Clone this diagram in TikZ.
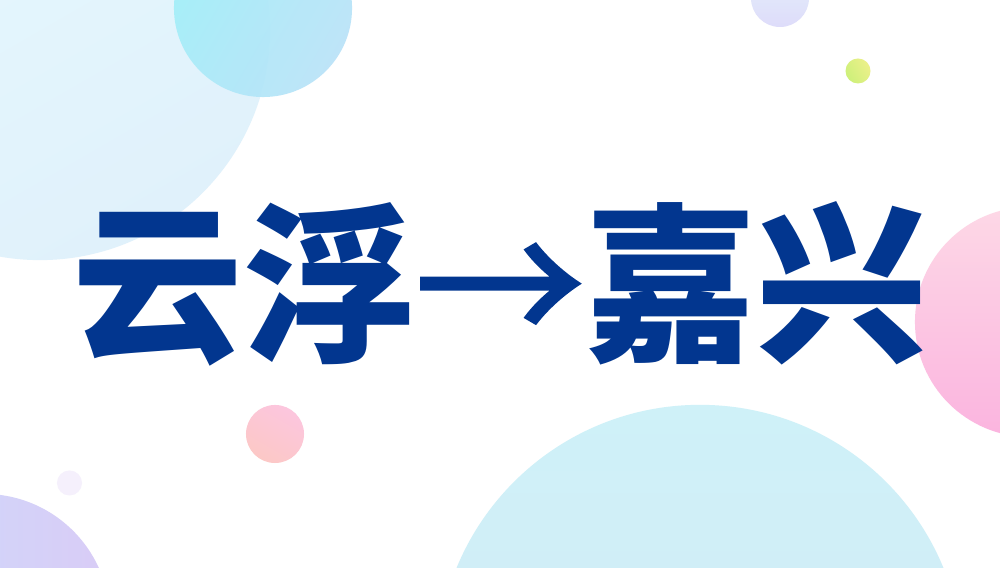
\documentclass[tikz,border=0pt]{standalone}
\usepackage{fontspec}
\newfontfamily\cjk{Noto Sans CJK SC}
\newfontfamily\cjkarrow{Noto Sans CJK SC}[FakeBold=1.5]
\definecolor{txt}{RGB}{2,54,143}
\definecolor{bigA}{HTML}{E6F8FE}
\definecolor{bigB}{HTML}{E0F1FB}
\definecolor{medA}{HTML}{A2EFF8}
\definecolor{medB}{HTML}{B9E2F8}
\definecolor{lavA}{HTML}{E4F0FB}
\definecolor{lavB}{HTML}{DEDCFA}
\definecolor{grnA}{HTML}{ECF08A}
\definecolor{grnB}{HTML}{CDF07A}
\definecolor{pnkA}{HTML}{FDD8E6}
\definecolor{pnkB}{HTML}{FBB4DF}
\definecolor{rosA}{HTML}{FCC6DE}
\definecolor{rosB}{HTML}{FCC8C6}
\definecolor{faint}{HTML}{F5F0FC}
\definecolor{blvA}{HTML}{CCDBFC}
\definecolor{blvB}{HTML}{D9CCF6}
\definecolor{bluA}{HTML}{CFF1F8}
\definecolor{bluB}{HTML}{D3E8F5}
\tikzset{blob/.style={draw=none}}
\begin{document}
\begin{tikzpicture}[x=0.01cm,y=-0.01cm]
\useasboundingbox (0,0) rectangle (1000,568);
\fill[white] (0,0) rectangle (1000,568);
\begin{scope}
\clip (0,0) rectangle (1000,568);
\shade[blob,top color=bigA,bottom color=bigB,shading angle=30] (40,30) circle[radius=2.30cm];
\shade[blob,left color=medA,right color=medB,shading angle=60,opacity=0.92] (263,8) circle[radius=0.89cm];
\shade[blob,top color=lavA,bottom color=lavB] (780,-2) circle[radius=0.29cm];
\shade[blob,left color=grnB,right color=grnA,shading angle=120] (858,71) circle[radius=0.125cm];
\shade[blob,top color=pnkA,bottom color=pnkB] (1030,322) circle[radius=1.15cm];
\shade[blob,top color=rosA,bottom color=rosB,shading angle=-30] (275,434) circle[radius=0.29cm];
\fill[blob,faint] (69.5,483) circle[radius=0.125cm];
\shade[blob,left color=blvA,right color=blvB] (-16,620) circle[radius=1.26cm];
\shade[blob,top color=bluA,bottom color=bluB] (700,668) circle[radius=2.63cm];
\end{scope}
\node[inner sep=0pt,text=txt,font=\cjk\bfseries\fontsize{48.6pt}{50pt}\selectfont] (title) at (500,284) {云浮{\cjkarrow\mdseries →}嘉兴};
\end{tikzpicture}
\end{document}
